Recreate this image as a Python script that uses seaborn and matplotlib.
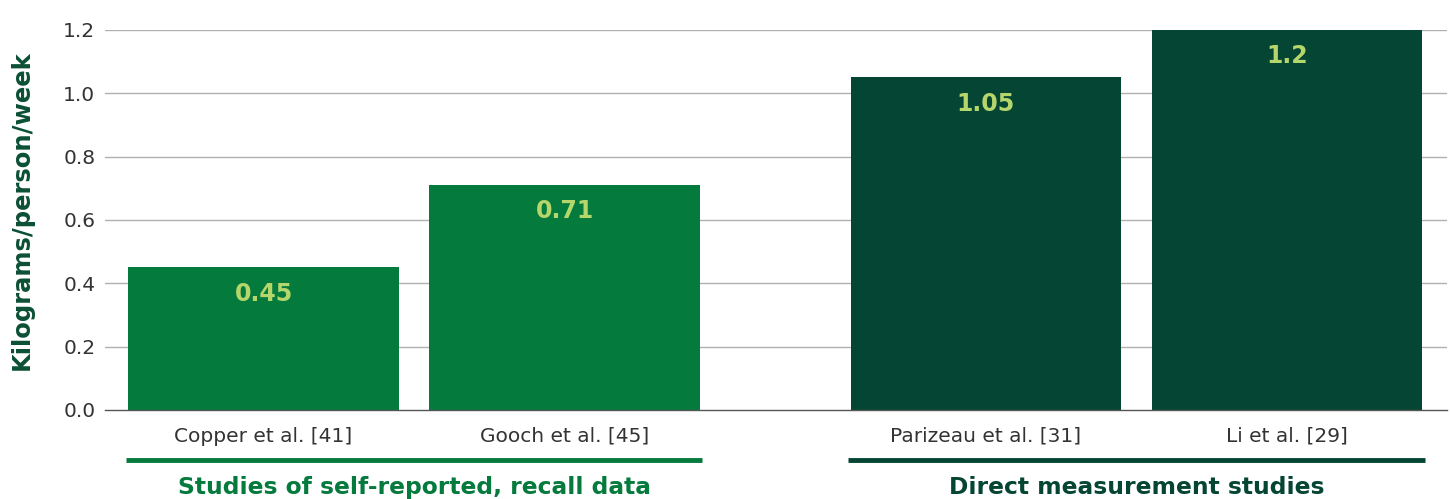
import matplotlib
matplotlib.use("Agg")
import matplotlib.pyplot as plt
import seaborn as sns
import pandas as pd

studies = ["Copper et al. [41]", "Gooch et al. [45]", "Parizeau et al. [31]", "Li et al. [29]"]
values = [0.45, 0.71, 1.05, 1.2]
groups = ["Studies of self-reported, recall data", "Studies of self-reported, recall data",
          "Direct measurement studies", "Direct measurement studies"]
group_names = ["Studies of self-reported, recall data", "Direct measurement studies"]
value_labels = ["0.45", "0.71", "1.05", "1.2"]
yticks = [0.0, 0.2, 0.4, 0.6, 0.8, 1.0, 1.2]
ylabel = "Kilograms/person/week"

positions = [0, 1, 2.4, 3.4]
colors = {group_names[0]: "#047a3d", group_names[1]: "#044533"}
label_color = "#b5d66a"

sns.set_theme(style="white")
plt.rcParams['font.family'] = ['DejaVu Sans']

df = pd.DataFrame({"pos": positions, "value": values, "group": groups, "study": studies})

fig = plt.figure(figsize=(14.5, 4.99), dpi=100)
ax = fig.add_axes([0.0724, 0.1784, 0.9256, 0.7615])

sns.barplot(data=df, x="pos", y="value", hue="group", palette=colors, native_scale=True,
            width=0.9, dodge=False, legend=False, ax=ax, saturation=1, linewidth=0)

ax.set_ylim(0, 1.2)
ax.set_xlim(-0.527, 3.932)
ax.set_yticks(yticks)
ax.set_yticklabels([f"{t:.1f}" for t in yticks], fontsize=14.5, color="#333333")
ax.set_xticks(positions)
ax.set_xticklabels(studies, fontsize=14.5, color="#333333")
ax.tick_params(axis="both", length=0)
ax.tick_params(axis="x", pad=12)
ax.tick_params(axis="y", pad=7)
for y in yticks[1:]:
    ax.axhline(y, color="#b0b0b0", lw=1, zorder=0)
ax.set_axisbelow(True)
for s in ["top", "right", "left"]:
    ax.spines[s].set_visible(False)
ax.spines["bottom"].set_color("#555555")
ax.spines["bottom"].set_linewidth(1)
ax.set_xlabel("")
ax.set_ylabel(ylabel, fontsize=17.5, fontweight="bold", color="#0b5034", labelpad=21)
ax.yaxis.label.set_y(0.527)

for p, v, t in zip(positions, values, value_labels):
    ax.text(p, v - 0.083, t, ha="center", va="center", fontsize=17, fontweight="bold", color=label_color)

# group brackets
trans = ax.get_xaxis_transform()
for gname, (a, b) in zip(group_names, [(0, 1), (2.4, 3.4)]):
    c = colors[gname]
    ax.plot([a - 0.457, b + 0.457], [-0.132, -0.132], transform=trans, color=c, lw=3.5,
            clip_on=False, solid_capstyle="butt")
    ax.text((a + b) / 2, -0.205, gname, transform=trans, ha="center", va="center",
            fontsize=16.8, fontweight="bold", color=c)

fig.savefig("out.png", dpi=100)
